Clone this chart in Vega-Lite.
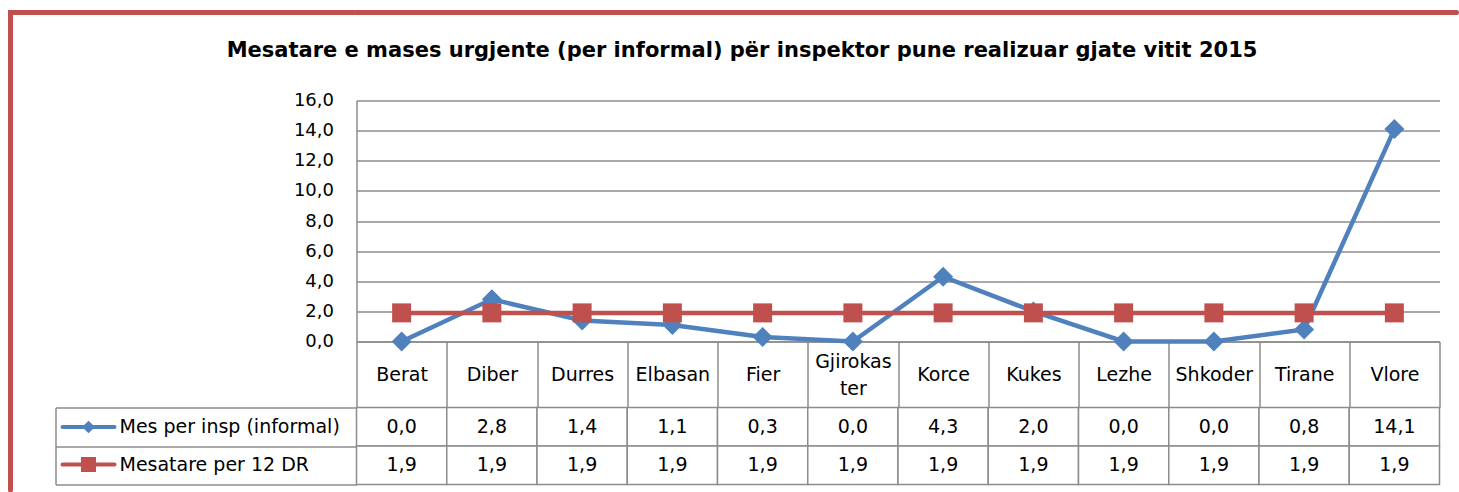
{
  "$schema": "https://vega.github.io/schema/vega-lite/v6.json",
  "padding": {"left": 7.5, "top": 9.5, "right": 0.5, "bottom": 0},
  "config": {
    "view": {"stroke": null},
    "font": "DejaVu Sans",
    "locale": {"number": {"decimal": ",", "thousands": ".", "grouping": [3], "currency": ["", " €"]}}
  },
  "datasets": {
    "lines": [
      {"region": "Berat", "series": "Mes per insp (informal)", "value": 0.0},
      {"region": "Diber", "series": "Mes per insp (informal)", "value": 2.8},
      {"region": "Durres", "series": "Mes per insp (informal)", "value": 1.4},
      {"region": "Elbasan", "series": "Mes per insp (informal)", "value": 1.1},
      {"region": "Fier", "series": "Mes per insp (informal)", "value": 0.3},
      {"region": "Gjirokaster", "series": "Mes per insp (informal)", "value": 0.0},
      {"region": "Korce", "series": "Mes per insp (informal)", "value": 4.3},
      {"region": "Kukes", "series": "Mes per insp (informal)", "value": 2.0},
      {"region": "Lezhe", "series": "Mes per insp (informal)", "value": 0.0},
      {"region": "Shkoder", "series": "Mes per insp (informal)", "value": 0.0},
      {"region": "Tirane", "series": "Mes per insp (informal)", "value": 0.8},
      {"region": "Vlore", "series": "Mes per insp (informal)", "value": 14.1},
      {"region": "Berat", "series": "Mesatare per 12 DR", "value": 1.9},
      {"region": "Diber", "series": "Mesatare per 12 DR", "value": 1.9},
      {"region": "Durres", "series": "Mesatare per 12 DR", "value": 1.9},
      {"region": "Elbasan", "series": "Mesatare per 12 DR", "value": 1.9},
      {"region": "Fier", "series": "Mesatare per 12 DR", "value": 1.9},
      {"region": "Gjirokaster", "series": "Mesatare per 12 DR", "value": 1.9},
      {"region": "Korce", "series": "Mesatare per 12 DR", "value": 1.9},
      {"region": "Kukes", "series": "Mesatare per 12 DR", "value": 1.9},
      {"region": "Lezhe", "series": "Mesatare per 12 DR", "value": 1.9},
      {"region": "Shkoder", "series": "Mesatare per 12 DR", "value": 1.9},
      {"region": "Tirane", "series": "Mesatare per 12 DR", "value": 1.9},
      {"region": "Vlore", "series": "Mesatare per 12 DR", "value": 1.9}
    ]
  },
  "bounds": "full",
  "spacing": -400,
  "hconcat": [
    {
      "width": 343.5,
      "height": 477.5,
      "view": {"stroke": "#C0504D", "strokeWidth": 5, "strokeDash": [343.5, 821, 477.5], "strokeCap": "round"},
      "data": {"values": []},
      "mark": "point"
    },
    {
      "bounds": "flush",
      "spacing": 66,
      "vconcat": [
        {
          "width": 1100,
          "height": 22,
          "view": {"stroke": "#C0504D", "strokeWidth": 5, "strokeDash": [1100, 2500], "strokeCap": "round"},
          "data": {"values": []},
          "mark": "point"
        },
        {
          "width": 1083,
          "height": 241,
          "title": {
            "text": "Mesatare e mases urgjente (per informal) për inspektor pune realizuar gjate vitit 2015",
            "font": "DejaVu Sans",
            "fontSize": 21,
            "fontWeight": "bold",
            "color": "black",
            "anchor": "middle",
            "frame": "group",
            "dx": -156,
            "offset": 31
          },
          "data": {"name": "lines"},
          "encoding": {
            "x": {
              "field": "region",
              "type": "nominal",
              "title": null,
              "scale": {"type": "band", "paddingInner": 0, "paddingOuter": 0},
              "axis": {
                "domainColor": "#8c8c8c",
                "domainWidth": 1.5,
                "ticks": true,
                "tickColor": "#8c8c8c",
                "tickWidth": 1.5,
                "tickSize": 66,
                "tickBand": "extent",
                "labelPadding": {"condition": {"test": "datum.value == 'Gjirokaster'", "value": -46.5}, "value": -33},
                "labelBaseline": "middle",
                "labelAngle": 0,
                "labelFont": "DejaVu Sans",
                "labelFontSize": 19,
                "labelColor": "black",
                "labelLineHeight": 27,
                "labelLimit": 300,
                "labelOverlap": false,
                "labelFlush": false,
                "labelExpr": "datum.value == 'Gjirokaster' ? ['Gjirokas', 'ter'] : datum.value"
              }
            },
            "y": {
              "field": "value",
              "type": "quantitative",
              "title": null,
              "scale": {"domain": [0, 16], "nice": false},
              "axis": {
                "tickCount": 8,
                "format": ".1f",
                "domainColor": "#8c8c8c",
                "domainWidth": 1.5,
                "ticks": false,
                "labelPadding": 23,
                "labelFont": "DejaVu Sans",
                "labelFontSize": 18,
                "labelColor": "black",
                "grid": true,
                "gridColor": "#8c8c8c",
                "gridWidth": 1.5
              }
            }
          },
          "layer": [
            {
              "transform": [{"filter": "datum.series == 'Mes per insp (informal)'"}],
              "mark": {"type": "line", "strokeWidth": 4.5},
              "encoding": {
                "color": {
                  "field": "series",
                  "type": "nominal",
                  "scale": {"domain": ["Mes per insp (informal)", "Mesatare per 12 DR"], "range": ["#4F81BD", "#C0504D"]},
                  "legend": {
                    "orient": "none",
                    "legendX": 66,
                    "legendY": 402.5,
                    "title": null,
                    "padding": 0,
                    "symbolSize": 400,
                    "symbolStrokeWidth": 4,
                    "symbolOpacity": 1,
                    "labelFont": "DejaVu Sans",
                    "labelFontSize": 19,
                    "labelColor": "black",
                    "labelOffset": 19,
                    "labelLimit": 400,
                    "rowPadding": 11.5,
                    "encoding": {
                      "symbols": {
                        "shape": {"value": {"expr": "datum.value == 'Mes per insp (informal)' ? 'M-2.6,0H2.6M0,-0.35L0.35,0L0,0.35L-0.35,0Z' : 'M-2.6,0H2.6M-0.55,-0.55H0.55V0.55H-0.55Z'"}},
                        "fill": {"value": {"expr": "scale('color', datum.value)"}},
                        "stroke": {"value": {"expr": "scale('color', datum.value)"}},
                        "strokeWidth": {"value": 4},
                        "strokeOpacity": {"value": 1},
                        "strokeCap": {"value": "round"}
                      }
                    }
                  }
                }
              }
            },
            {
              "transform": [{"filter": "datum.series == 'Mes per insp (informal)'"}],
              "mark": {"type": "point", "shape": "diamond", "filled": true, "opacity": 1, "size": 400},
              "encoding": {"color": {"field": "series", "type": "nominal"}}
            },
            {
              "transform": [{"filter": "datum.series == 'Mesatare per 12 DR'"}],
              "mark": {"type": "line", "strokeWidth": 4.5},
              "encoding": {"color": {"field": "series", "type": "nominal"}}
            },
            {
              "transform": [{"filter": "datum.series == 'Mesatare per 12 DR'"}],
              "mark": {"type": "point", "shape": "square", "filled": true, "opacity": 1, "size": 361},
              "encoding": {"color": {"field": "series", "type": "nominal"}}
            }
          ]
        },
        {
          "width": 1083,
          "height": 77,
          "data": {"name": "lines"},
          "encoding": {
            "x": {
              "field": "region",
              "type": "nominal",
              "title": null,
              "scale": {"type": "band", "paddingInner": 0, "paddingOuter": 0},
              "axis": null
            },
            "y": {
              "field": "series",
              "type": "nominal",
              "title": null,
              "scale": {"type": "band", "paddingInner": 0, "paddingOuter": 0},
              "axis": {
                "orient": "left",
                "offset": 301,
                "domain": true,
                "domainColor": "#8c8c8c",
                "domainWidth": 1.5,
                "ticks": true,
                "tickBand": "extent",
                "tickSize": -301,
                "tickColor": "#8c8c8c",
                "tickWidth": 1.5,
                "labels": false,
                "grid": false
              }
            }
          },
          "layer": [
            {"mark": {"type": "rect", "fill": "white", "stroke": "#8c8c8c", "strokeWidth": 1.5}},
            {
              "mark": {"type": "text", "font": "DejaVu Sans", "fontSize": 19, "color": "black"},
              "encoding": {"text": {"field": "value", "type": "quantitative", "format": ".1f"}}
            }
          ]
        }
      ]
    }
  ]
}
